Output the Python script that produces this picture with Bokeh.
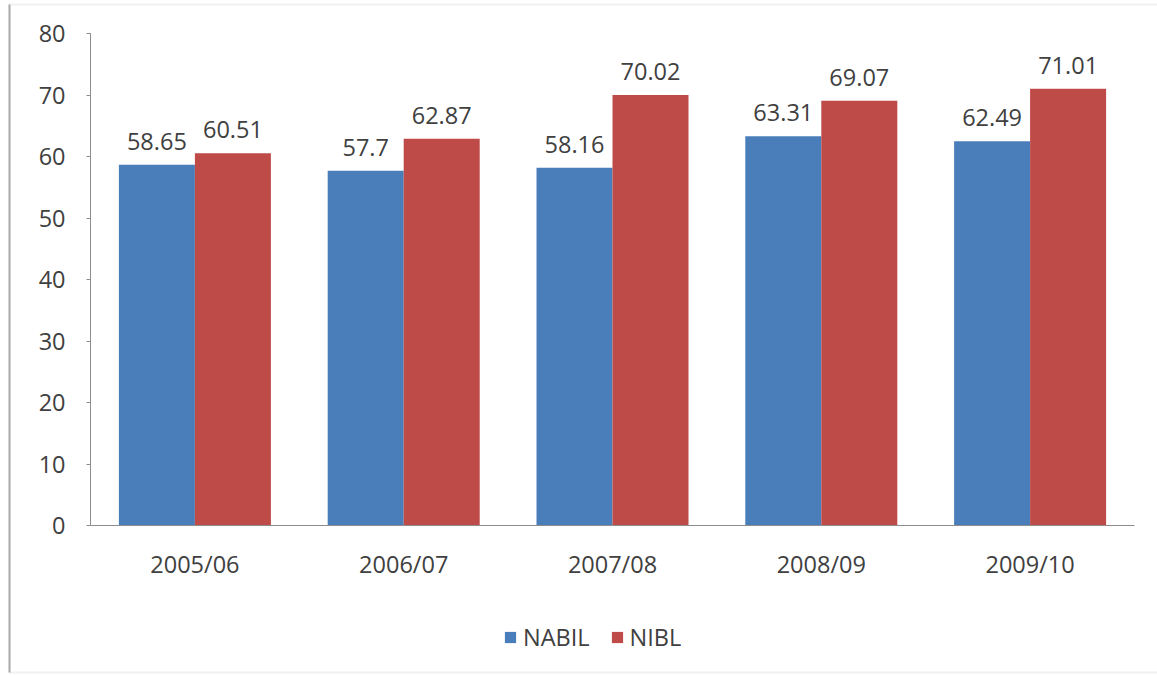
from bokeh.plotting import figure
from bokeh.models import (ColumnDataSource, Range1d, Legend, LegendItem, LinearAxis,
                          FixedTicker, BoxAnnotation, Node)
from bokeh.core.properties import value
from bokeh.embed import file_html
from bokeh.resources import INLINE

# Data
years = ["2005/06", "2006/07", "2007/08", "2008/09", "2009/10"]
nabil = [58.65, 57.7, 58.16, 63.31, 62.49]
nibl = [60.51, 62.87, 70.02, 69.07, 71.01]
y_ticks = [0, 10, 20, 30, 40, 50, 60, 70, 80]

BLUE = "#4A7EBB"
RED = "#BE4B48"
TEXT = "#404040"
AXIS = "#8C8C8C"
FONT = "Open Sans"
FS = "23.5px"

W, H = 1157, 675
# pixel geometry of the plotting area inside the canvas
PLOT_LEFT, PLOT_RIGHT = 90, 1134
Y_ZERO_PX, Y_TOP_PX = 525, 33
Y_MAX = 80

n = len(years)
idx = list(range(n))
bw = 0.364  # bar width in category units

px_per_cat = (PLOT_RIGHT - PLOT_LEFT) / n
px_per_unit = (Y_ZERO_PX - Y_TOP_PX) / Y_MAX
x_start = -0.5 - PLOT_LEFT / px_per_cat
x_end = n - 0.5 + (W - PLOT_RIGHT) / px_per_cat
y_start = -(H - Y_ZERO_PX) / px_per_unit
y_end = Y_ZERO_PX / px_per_unit

src = ColumnDataSource(dict(
    x_nabil=[i - bw / 2 for i in idx], x_nibl=[i + bw / 2 for i in idx],
    nabil=nabil, nibl=nibl,
    nabil_lbl=[f"{v:g}" for v in nabil], nibl_lbl=[f"{v:g}" for v in nibl]))

p = figure(width=W, height=H, x_range=Range1d(x_start, x_end),
           y_range=Range1d(y_start, y_end), output_backend="svg",
           toolbar_location=None, x_axis_location=None, y_axis_location=None,
           min_border=0)
p.outline_line_color = None
p.xgrid.grid_line_color = None
p.ygrid.grid_line_color = None
p.background_fill_color = "white"
p.border_fill_color = "white"

r1 = p.vbar(x="x_nabil", top="nabil", width=bw, source=src,
            fill_color=BLUE, line_color=None)
r2 = p.vbar(x="x_nibl", top="nibl", width=bw, source=src,
            fill_color=RED, line_color=None)

# value labels above the bars
for xcol, col, lbl in (("x_nabil", "nabil", "nabil_lbl"), ("x_nibl", "nibl", "nibl_lbl")):
    p.text(x=xcol, y=col, text=lbl, source=src,
           text_align="center", text_baseline="bottom", y_offset=-15,
           text_font=value(FONT), text_font_size=FS, text_color=TEXT)

# value axis
yaxis = LinearAxis(ticker=FixedTicker(ticks=y_ticks), bounds=(0, Y_MAX),
                   fixed_location=-0.5)
yaxis.axis_line_color = AXIS
yaxis.major_tick_line_color = AXIS
yaxis.major_tick_in = 0
yaxis.major_tick_out = 4
yaxis.minor_tick_line_color = None
yaxis.major_label_text_font = FONT
yaxis.major_label_text_font_size = FS
yaxis.major_label_text_color = TEXT
yaxis.major_label_standoff = 21
p.add_layout(yaxis, "left")

# category axis
xaxis = LinearAxis(ticker=FixedTicker(ticks=idx), bounds=(-0.5, n - 0.5),
                   fixed_location=0,
                   major_label_overrides={i: y for i, y in zip(idx, years)})
xaxis.axis_line_color = AXIS
xaxis.major_tick_line_color = None
xaxis.minor_tick_line_color = None
xaxis.major_label_text_font = FONT
xaxis.major_label_text_font_size = FS
xaxis.major_label_text_color = TEXT
xaxis.major_label_standoff = 16
p.add_layout(xaxis, "below")

legend = Legend(items=[LegendItem(label="NABIL", renderers=[r1]),
                       LegendItem(label="NIBL", renderers=[r2])],
                orientation="horizontal", location=(503, 22),
                glyph_width=14, glyph_height=14, label_standoff=6, spacing=20,
                label_text_font=FONT, label_text_font_size=FS,
                label_text_color=TEXT, background_fill_alpha=0,
                border_line_color=None, padding=0, margin=0)
p.add_layout(legend, "center")

# chart border: light top/bottom edges, darker left edge; right side runs past the canvas
border = BoxAnnotation(left=Node(target="frame", symbol="left", offset=9),
                       right=Node(target="frame", symbol="right", offset=20),
                       top=Node(target="frame", symbol="top", offset=4),
                       bottom=Node(target="frame", symbol="bottom", offset=-3),
                       fill_alpha=0, line_color="#CFCFCF", line_width=2)
p.add_layout(border)
left_edge = BoxAnnotation(left=Node(target="frame", symbol="left", offset=8),
                          right=Node(target="frame", symbol="left", offset=10),
                          top=Node(target="frame", symbol="top", offset=4),
                          bottom=Node(target="frame", symbol="bottom", offset=-3),
                          fill_color="#ABABAB", fill_alpha=1, line_color=None)
p.add_layout(left_edge)

open("out.html", "w").write(file_html(p, INLINE))
